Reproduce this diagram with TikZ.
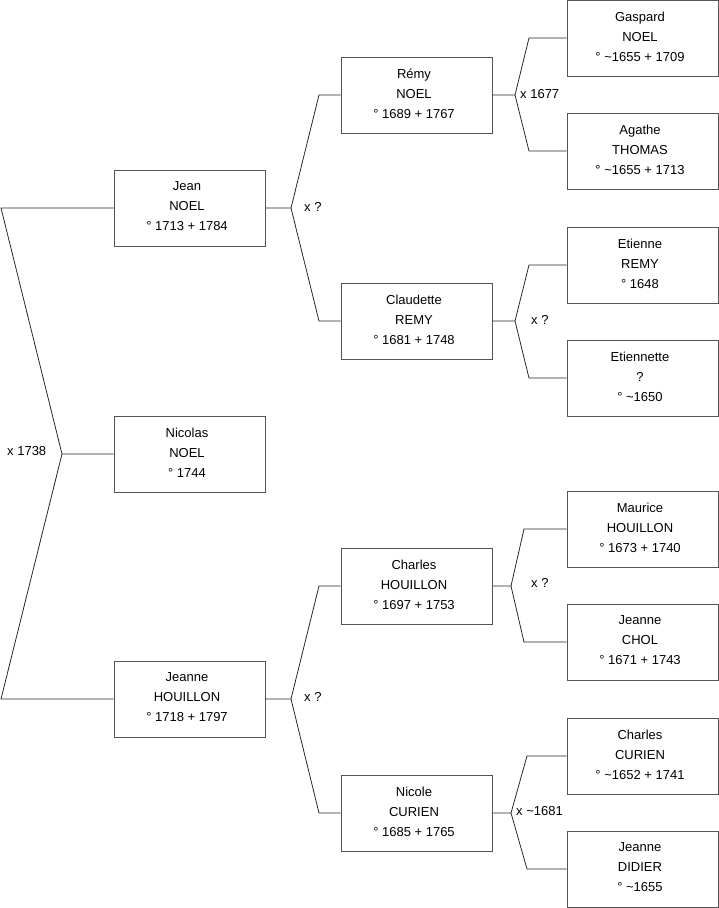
\documentclass[tikz,border=0pt]{standalone}
\usepackage{fontspec}
\setmainfont{Liberation Sans}
\definecolor{boxline}{RGB}{85,85,85}
\definecolor{conline}{RGB}{40,40,40}
\newcommand\personbox[3]{%
  \node[person] (#1) at (#2) {};
  \node[ptext] (#1-t) at ([xshift=-2.5pt,yshift=1.5pt]#1.center) {#3};}
\begin{document}
\begin{tikzpicture}[x=1pt,y=-1pt,
  person/.style={draw=boxline,line width=0.9pt,minimum width=151pt,minimum height=76pt,inner sep=0pt},
  ptext/.style={inner sep=0pt,align=center,font=\fontsize{13}{20}\selectfont},
  con/.style={draw=conline,line width=0.8pt},
  mlabel/.style={font=\fontsize{13}{15}\selectfont,inner sep=0pt,anchor=west}]
\useasboundingbox (0,0) rectangle (719,908);
% generation 1
\personbox{nicolas}{189.5,454}{Nicolas\\NOEL\\° 1744}
% generation 2
\personbox{jean}{189.5,208}{Jean\\NOEL\\° 1713 + 1784}
\personbox{jeanne}{189.5,699}{Jeanne\\HOUILLON\\° 1718 + 1797}
% generation 3
\personbox{remy}{416.5,95}{Rémy\\NOEL\\° 1689 + 1767}
\personbox{claudette}{416.5,321}{Claudette\\REMY\\° 1681 + 1748}
\personbox{charles}{416.5,586}{Charles\\HOUILLON\\° 1697 + 1753}
\personbox{nicole}{416.5,813}{Nicole\\CURIEN\\° 1685 + 1765}
% generation 4
\personbox{gaspard}{642.5,38}{Gaspard\\NOEL\\° \textasciitilde 1655 + 1709}
\personbox{agathe}{642.5,151}{Agathe\\THOMAS\\° \textasciitilde 1655 + 1713}
\personbox{etienne}{642.5,265}{Etienne\\REMY\\° 1648}
\personbox{etiennette}{642.5,378}{Etiennette\\?\\° \textasciitilde 1650}
\personbox{maurice}{642.5,529}{Maurice\\HOUILLON\\° 1673 + 1740}
\personbox{jchol}{642.5,642}{Jeanne\\CHOL\\° 1671 + 1743}
\personbox{ccurien}{642.5,756}{Charles\\CURIEN\\° \textasciitilde 1652 + 1741}
\personbox{jdidier}{642.5,869}{Jeanne\\DIDIER\\° \textasciitilde 1655}
% junction coordinates
\coordinate (r0) at (62,454);
\coordinate (r0a) at (1,208);
\coordinate (r0b) at (1,699);
\coordinate (j1) at (291,208);
\coordinate (j1a) at (319,95);
\coordinate (j1b) at (319,321);
\coordinate (j2) at (291,699);
\coordinate (j2a) at (319,586);
\coordinate (j2b) at (319,813);
\coordinate (j3) at (515,95);
\coordinate (j3a) at (529,38);
\coordinate (j3b) at (529,151);
\coordinate (j4) at (515,321);
\coordinate (j4a) at (529,265);
\coordinate (j4b) at (529,378);
\coordinate (j5) at (511,586);
\coordinate (j5a) at (524,529);
\coordinate (j5b) at (524,642);
\coordinate (j6) at (511,813);
\coordinate (j6a) at (527,756);
\coordinate (j6b) at (527,869);
% connectors
\draw[con] (nicolas.west) -- (r0) -- (r0a) -- (jean.west);
\draw[con] (r0) -- (r0b) -- (jeanne.west);
\draw[con] (jean.east) -- (j1) -- (j1a) -- (remy.west);
\draw[con] (j1) -- (j1b) -- (claudette.west);
\draw[con] (jeanne.east) -- (j2) -- (j2a) -- (charles.west);
\draw[con] (j2) -- (j2b) -- (nicole.west);
\draw[con] (remy.east) -- (j3) -- (j3a) -- (gaspard.west);
\draw[con] (j3) -- (j3b) -- (agathe.west);
\draw[con] (claudette.east) -- (j4) -- (j4a) -- (etienne.west);
\draw[con] (j4) -- (j4b) -- (etiennette.west);
\draw[con] (charles.east) -- (j5) -- (j5a) -- (maurice.west);
\draw[con] (j5) -- (j5b) -- (jchol.west);
\draw[con] (nicole.east) -- (j6) -- (j6a) -- (ccurien.west);
\draw[con] (j6) -- (j6b) -- (jdidier.west);
% marriage labels
\node[mlabel] (m0) at (7,451) {x 1738};
\node[mlabel] (m1) at (304,207) {x ?};
\node[mlabel] (m2) at (304,697) {x ?};
\node[mlabel] (m3) at (520,94) {x 1677};
\node[mlabel] (m4) at (531,320) {x ?};
\node[mlabel] (m5) at (531,583) {x ?};
\node[mlabel] (m6) at (516,811) {x \textasciitilde 1681};
\end{tikzpicture}
\end{document}
